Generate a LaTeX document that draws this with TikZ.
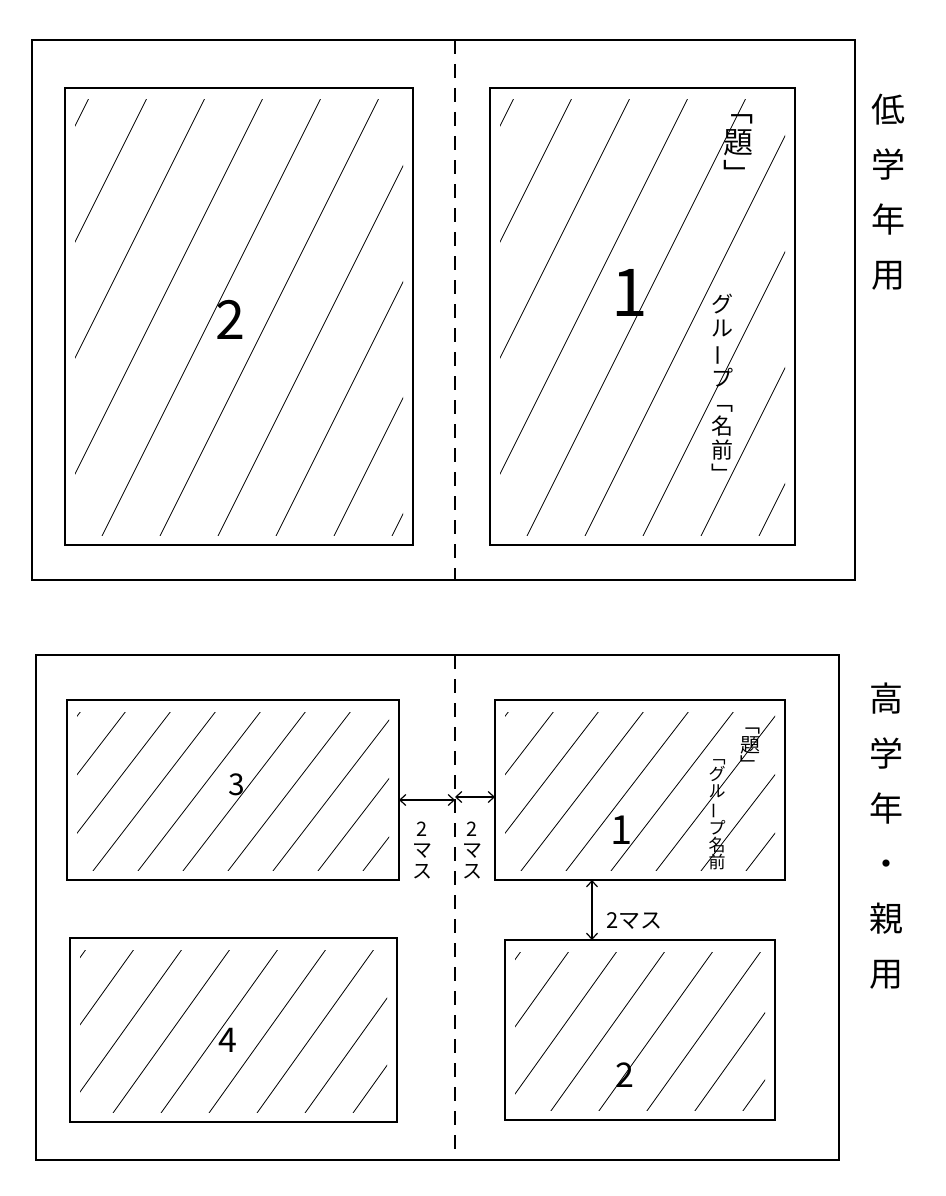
\documentclass[tikz,border=0pt]{standalone}
\usepackage{fontspec}
\setmainfont{Noto Sans CJK JP}
\usetikzlibrary{arrows.meta}
\tikzset{
  frame/.style={draw, line width=2.3pt, inner sep=0pt, outer sep=0pt},
  box/.style={draw, line width=2pt, inner sep=0pt, outer sep=0pt},
  hatchline/.style={line width=0.8pt},
  centerline/.style={line width=1.3pt, dash pattern=on 14pt off 10pt},
  dblarrow/.style={line width=1.2pt, {Straight Barb[length=6pt,width=11pt]}-{Straight Barb[length=6pt,width=11pt]}},
  biglabel/.style={align=center, inner sep=0pt, font=\fontsize{34}{55}\selectfont},
  num/.style={inner sep=0pt, font=\fontsize{#1}{#1}\selectfont},
  jp/.style={align=center, inner sep=0pt, font=\fontsize{#1}{#1}\selectfont},
}
\newcommand\hatchrect[6]{%
  \begin{scope}
    \clip (#1+10,#2+12) rectangle (#3-10,#4-10);
    \pgfmathsetmacro\hh{#4-#2}
    \pgfmathsetmacro\ddx{\hh/#6}
    \pgfmathsetmacro\sa{#1-\ddx+#5/2}
    \pgfmathsetmacro\sb{\sa+#5}
    \foreach \s in {\sa,\sb,...,#3} \draw[hatchline] (\s,#4) -- ++(\ddx,-\hh);
  \end{scope}}
\newcommand\vbar{\rotatebox[origin=c]{90}{ー}}
\begin{document}
\begin{tikzpicture}[x=1pt,y=-1pt]
\useasboundingbox (0,0) rectangle (945,1196);
\fill[white] (0,0) rectangle (945,1196);

% ---------- top sheet ----------
\node[frame, minimum width=823pt, minimum height=540pt] (F1) at (443.5,310) {};
\coordinate (cx) at (455,0);
\draw[centerline] (F1.north -| cx) -- (F1.south -| cx);

\hatchrect{65}{88}{413}{545}{58}{2.0}
\hatchrect{490}{88}{795}{545}{58}{2.0}
\node[box, minimum width=348pt, minimum height=457pt] (tl) at (239,316.5) {};
\node[box, minimum width=305pt, minimum height=457pt] (tr) at (642.5,316.5) {};

\node[num=54] (n2top) at (230,320) {2};
\node[num=66] (n1top) at (630,293) {1};
\node[jp=30, font=\fontsize{30}{32}\selectfont] (daitop) at (738,150) {﹁\\題\\﹂};
\node[jp=22, font=\fontsize{22}{24}\selectfont] (grptop) at (722,388) {グ\\ル\\\vbar\\プ\\﹁\\名\\前\\﹂};

\node[biglabel] (lowlabel) at (888,192) {低\\学\\年\\用};

% ---------- bottom sheet ----------
\node[frame, minimum width=803pt, minimum height=505pt] (F2) at (437.5,907.5) {};
\draw[centerline] (F2.north -| cx) -- (F2.south -| cx);

\hatchrect{67}{700}{399}{880}{45}{1.3}
\hatchrect{495}{700}{785}{880}{45}{1.3}
\hatchrect{70}{938}{397}{1122}{48}{1.4}
\hatchrect{505}{940}{775}{1120}{48}{1.4}
\node[box, minimum width=332pt, minimum height=180pt] (b3) at (233,790) {};
\node[box, minimum width=290pt, minimum height=180pt] (b1) at (640,790) {};
\node[box, minimum width=327pt, minimum height=184pt] (b4) at (233.5,1030) {};
\node[box, minimum width=270pt, minimum height=180pt] (b2) at (640,1030) {};

\node[num=30] (n3) at (237,785) {3};
\node[num=40] (n1) at (622,830) {1};
\node[num=34] (n4) at (228,1040) {4};
\node[num=34] (n2) at (625,1075) {2};

\node[jp=20, font=\fontsize{20}{20}\selectfont] (daibot) at (750,750) {﹁\\題\\﹂};
\node[jp=17, font=\fontsize{17}{17}\selectfont] (grpbot) at (717,815) {﹁\\グ\\ル\\\vbar\\プ\\名\\前};

% spacing arrows
\coordinate (ha) at (455,800);
\coordinate (hb) at (455,797);
\draw[dblarrow] (b3.east |- ha) -- (ha);
\draw[dblarrow] (hb) -- (b1.west |- hb);
\node[jp=20, font=\fontsize{20}{21}\selectfont] (m1) at (422,850) {2\\マ\\ス};
\node[jp=20, font=\fontsize{20}{21}\selectfont] (m2) at (472,850) {2\\マ\\ス};

\coordinate (va) at (592,0);
\draw[dblarrow] (b1.south -| va) -- (b2.north -| va);
\node[jp=22, anchor=west] (m3) at (606,921) {2マス};

\node[biglabel] (highlabel) at (886,836) {高\\学\\年\\・\\親\\用};
\end{tikzpicture}
\end{document}
